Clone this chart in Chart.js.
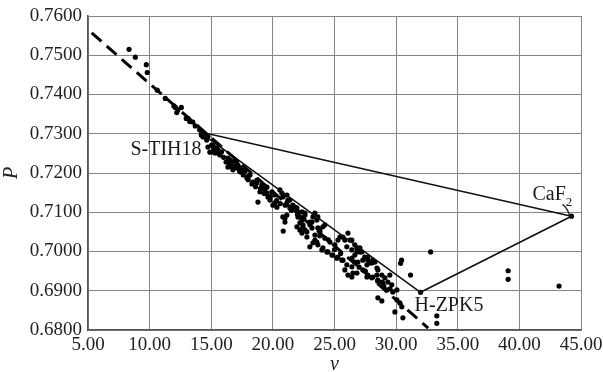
<!DOCTYPE html>
<html>
<head>
<meta charset="utf-8">
<script src="https://cdn.jsdelivr.net/npm/chart.js@4/dist/chart.umd.min.js"></script>
<style>
html,body{margin:0;padding:0;background:#fff;}
#wrap{width:603px;height:372px;position:relative;}
</style>
</head>
<body>
<div id="wrap"><canvas id="c" width="603" height="372"></canvas></div>
<script>
// Glass data: Abbe number v and relative partial dispersion P
const vData = [
 8.33,8.84,9.73,9.81,10.62,11.27,11.97,12.08,12.30,12.57,12.20,12.97,13.11,13.25,13.50,13.70,14.06,14.19,14.33,14.60,14.73,
 14.22,14.63,15.03,15.44,15.84,16.35,16.65,17.06,17.33,17.73,17.98,15.14,
 14.33,14.73,15.14,15.54,15.30,15.70,14.89,16.35,16.68,16.76,17.16,17.33,17.57,16.92,17.89,18.14,18.38,18.71,19.11,19.35,18.95,19.52,
 19.60,19.92,20.17,20.57,20.81,21.14,21.38,21.79,22.03,20.98,21.14,20.33,20.00,18.79,
 16.52,17.08,17.49,18.71,19.11,19.52,19.76,20.17,20.81,20.98,20.84,21.38,22.19,22.60,23.00,23.41,23.65,21.95,22.19,22.76,23.17,23.41,23.81,24.22,
 23.41,23.65,24.06,24.46,24.87,25.28,25.68,26.00,24.22,24.63,25.03,25.44,25.84,26.09,
 20.73,21.14,21.22,21.62,21.95,22.36,22.60,22.03,22.19,22.44,23.17,23.25,23.57,23.65,23.81,24.06,23.25,23.57,23.98,24.38,24.79,25.19,25.60,
 25.28,25.68,26.25,26.00,26.41,26.82,27.06,26.65,26.41,26.90,27.30,27.63,27.87,28.44,28.11,27.71,25.84,26.09,26.41,26.82,27.63,28.03,28.44,
 26.41,26.65,27.06,26.82,27.22,26.41,26.49,26.65,27.46,27.71,28.03,28.28,27.30,27.71,28.11,28.52,28.84,29.09,29.33,29.65,28.92,29.25,29.73,30.06,29.49,28.84,28.52,
 28.52,28.84,30.06,30.30,30.46,29.90,30.55,
 22.36,22.44,22.60,22.76,22.36,23.00,
 15.20,15.60,16.00,16.20,16.50,16.90,17.30,17.60,18.00,18.30,18.60,19.00,19.30,19.80,20.30,20.60,21.00,21.50,22.00,22.50,
 23.00,23.80,24.50,25.00,25.50,27.00,27.50,28.50,29.00,29.50,
 30.44,30.36,31.17,31.98,32.80,33.30,33.30,39.09,39.09,43.22,44.23
];
const pData = [
 0.7515,0.7495,0.7476,0.7456,0.7411,0.7390,0.7371,0.7367,0.7361,0.7367,0.7354,0.7339,0.7339,0.7331,0.7330,0.7320,0.7310,0.7297,0.7301,0.7293,0.7293,
 0.7302,0.7284,0.7271,0.7264,0.7254,0.7238,0.7216,0.7229,0.7213,0.7204,0.7191,0.7254,
 0.7292,0.7266,0.7271,0.7259,0.7251,0.7246,0.7253,0.7215,0.7228,0.7208,0.7220,0.7203,0.7200,0.7233,0.7187,0.7195,0.7177,0.7182,0.7169,0.7157,0.7152,0.7164,
 0.7139,0.7152,0.7144,0.7157,0.7139,0.7124,0.7131,0.7113,0.7101,0.7085,0.7093,0.7113,0.7118,0.7126,
 0.7233,0.7213,0.7208,0.7175,0.7162,0.7149,0.7131,0.7124,0.7088,0.7075,0.7052,0.7111,0.7088,0.7093,0.7075,0.7098,0.7088,0.7063,0.7055,0.7050,0.7060,0.7042,0.7055,0.7068,
 0.7029,0.7017,0.7009,0.6999,0.6991,0.6986,0.6978,0.6966,0.7034,0.7024,0.7017,0.7037,0.7029,0.7047,
 0.7149,0.7144,0.7131,0.7118,0.7111,0.7101,0.7098,0.7088,0.7073,0.7063,0.7075,0.7088,0.7080,0.7060,0.7050,0.7063,0.7022,0.7024,0.7004,0.6999,0.6991,0.6983,0.6978,
 0.7029,0.7037,0.7029,0.7012,0.7004,0.7009,0.6999,0.6991,0.6983,0.6973,0.6978,0.6966,0.6971,0.6958,0.6978,0.6986,0.6953,0.6940,0.6935,0.6945,0.6935,0.6933,0.6940,
 0.7029,0.7017,0.7009,0.6999,0.6999,0.6961,0.6945,0.6973,0.6986,0.6978,0.6971,0.6973,0.6953,0.6940,0.6935,0.6953,0.6940,0.6933,0.6922,0.6915,0.6920,0.6902,0.6897,0.6902,0.6940,0.6922,0.6927,
 0.6882,0.6874,0.6877,0.6869,0.6859,0.6846,0.6831,
 0.7080,0.7068,0.7055,0.7037,0.7047,0.7012,
 0.7262,0.7250,0.7240,0.7228,0.7222,0.7218,0.7206,0.7195,0.7183,0.7172,0.7165,0.7160,0.7148,0.7140,0.7130,0.7122,0.7118,0.7105,0.7095,0.7085,
 0.7068,0.7040,0.7030,0.7005,0.6995,0.6960,0.6950,0.6925,0.6912,0.6905,
 0.6978,0.6970,0.6940,0.6896,0.6999,0.6836,0.6817,0.6951,0.6929,0.6912,0.7090
];
// Normal line (dashed) end points
const fitV = [5.30, 32.60];
const fitP = [0.7557, 0.6805];
// Glass triangle: S-TIH18, CaF2, H-ZPK5
const glassNames = ['S-TIH18', 'CaF2', 'H-ZPK5'];
const glassV = [14.05, 44.23, 31.98];
const glassP = [0.7305, 0.7090, 0.6896];
// Axis ticks
const xTicks = [5, 10, 15, 20, 25, 30, 35, 40, 45];
const yTicks = [0.68, 0.69, 0.70, 0.71, 0.72, 0.73, 0.74, 0.75, 0.76];

const scatterPts = vData.map((v, i) => ({x: v, y: pData[i]}));
const fitPts = fitV.map((v, i) => ({x: v, y: fitP[i]}));
const triPts = glassV.map((v, i) => ({x: v, y: glassP[i]}));
triPts.push({x: glassV[0], y: glassP[0]});

const serif = "'Liberation Serif','Times New Roman',serif";

const labelPlugin = {
  id: 'glassLabels',
  afterDatasetsDraw(chart) {
    const ctx = chart.ctx;
    const xs = chart.scales.x, ys = chart.scales.y;
    ctx.save();
    ctx.fillStyle = '#1a1a1a';
    ctx.strokeStyle = '#1a1a1a';
    ctx.font = '20px ' + serif;
    ctx.textBaseline = 'alphabetic';
    // S-TIH18
    let px = xs.getPixelForValue(glassV[0]), py = ys.getPixelForValue(glassP[0]);
    ctx.textAlign = 'right';
    ctx.fillText(glassNames[0], px + 2, py + 23);
    // CaF2
    px = xs.getPixelForValue(glassV[1]); py = ys.getPixelForValue(glassP[1]);
    ctx.textAlign = 'left';
    const w = ctx.measureText('CaF').width;
    ctx.fillText('CaF', px - 39, py - 16);
    ctx.font = '13px ' + serif;
    ctx.fillText('2', px - 39 + w, py - 10);
    ctx.lineWidth = 1.3;
    ctx.beginPath();
    ctx.moveTo(px - 9, py - 12);
    ctx.quadraticCurveTo(px - 4, py - 8, px - 2, py - 1);
    ctx.stroke();
    // H-ZPK5
    px = xs.getPixelForValue(glassV[2]); py = ys.getPixelForValue(glassP[2]);
    ctx.font = '20px ' + serif;
    ctx.fillText(glassNames[2], px - 6, py + 19);
    ctx.restore();
  }
};

new Chart(document.getElementById('c'), {
  type: 'scatter',
  data: {
    datasets: [
      {
        type: 'line', data: fitPts, borderColor: '#000', borderWidth: 3,
        borderDash: [13, 7], pointRadius: 0, fill: false, tension: 0
      },
      {
        type: 'line', data: triPts, borderColor: '#111', borderWidth: 1.6,
        pointRadius: 0, fill: false, tension: 0
      },
      {
        data: scatterPts, backgroundColor: '#000', borderColor: '#000',
        pointRadius: 2.6, borderWidth: 0
      }
    ]
  },
  options: {
    responsive: false,
    animation: false,
    devicePixelRatio: 1,
    layout: {padding: {left: 0, right: 22, top: 16, bottom: 0}},
    plugins: {legend: {display: false}, tooltip: {enabled: false}},
    scales: {
      x: {
        type: 'linear', min: 5, max: 45,
        afterBuildTicks: s => { s.ticks = xTicks.map(v => ({value: v})); },
        afterFit: s => { s.height = 42; s.paddingLeft = 0; s.paddingRight = 0; },
        ticks: {
          callback: v => Number(v).toFixed(2),
          color: '#222', padding: 4, maxRotation: 0,
          font: {family: serif, size: 19}
        },
        grid: {color: '#858585', lineWidth: 1, drawTicks: false},
        border: {color: '#555', width: 1.5},
        title: {
          display: true, text: 'v', color: '#222', padding: {top: 0, bottom: -5},
          font: {family: serif, size: 20, style: 'italic'}
        }
      },
      y: {
        type: 'linear', min: 0.68, max: 0.76,
        afterBuildTicks: s => { s.ticks = yTicks.map(v => ({value: v})); },
        afterFit: s => { s.width = 88; s.paddingTop = 0; s.paddingBottom = 0; },
        ticks: {
          callback: v => Number(v).toFixed(4),
          color: '#222', padding: 6,
          font: {family: serif, size: 19}
        },
        grid: {color: '#858585', lineWidth: 1, drawTicks: false},
        border: {color: '#555', width: 1.5},
        title: {
          display: true, text: 'P', color: '#222', padding: {top: 0, bottom: 0},
          font: {family: serif, size: 20, style: 'italic'}
        }
      }
    }
  },
  plugins: [labelPlugin]
});
</script>
</body>
</html>
